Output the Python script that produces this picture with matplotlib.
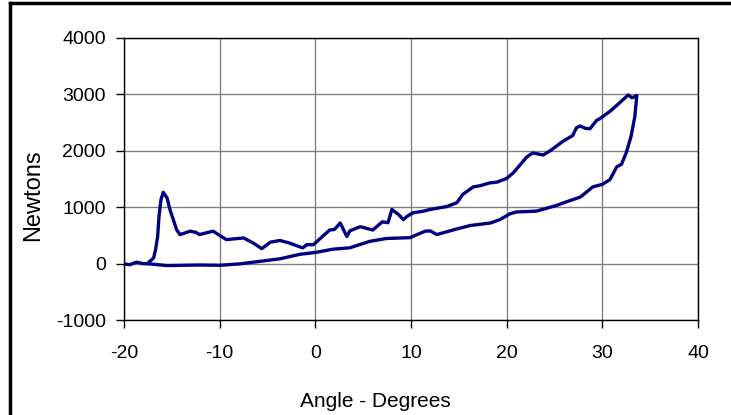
import matplotlib
matplotlib.use('Agg')
from matplotlib import pyplot as plt
from matplotlib.lines import Line2D

# Loading path (lower branch), left to right
load_angle = [-20.0, -19.4, -18.7, -18.0, -17.3, -15.5, -12.1, -10.0, -7.9, -5.8,
              -3.7, -1.6, 0.1, 1.8, 3.6, 5.7, 7.4, 9.9, 11.0, 11.5,
              12.0, 12.7, 14.8, 16.2, 18.3, 19.3, 20.3, 21.0, 23.1, 25.2,
              25.9, 27.7, 29.0, 30.0, 30.8, 31.5, 32.0, 32.5, 33.0, 33.4, 33.6]
load_force = [-5, -20, 25, 0, -5, -35, -25, -30, -5, 40,
              85, 165, 200, 255, 280, 395, 445, 460, 540, 575,
              580, 515, 615, 675, 720, 780, 880, 915, 930, 1030,
              1075, 1180, 1360, 1405, 1490, 1715, 1760, 1965, 2255, 2610, 2980]

# Unloading path (upper branch), right to left
unload_angle = [33.5, 33.1, 32.7, 31.8, 30.8, 29.7, 29.4, 28.7, 28.2, 27.7,
                27.3, 26.9, 25.9, 24.5, 23.8, 23.1, 22.7, 22.1, 20.7, 20.0,
                19.0, 18.2, 17.2, 16.5, 15.4, 14.8, 13.7, 12.0, 11.3, 10.2,
                9.6, 9.2, 8.7, 8.0, 7.6, 7.0, 6.0, 4.7, 3.6, 3.3,
                2.6, 2.0, 1.5, 0.8, -0.2, -0.9, -1.3, -1.6, -2.7, -3.7,
                -4.7, -5.6, -6.5, -7.5, -9.3, -10.7, -12.1, -12.5, -13.1, -13.6,
                -14.15, -14.5, -14.85, -15.2, -15.5, -15.9, -16.13, -16.34, -16.48, -16.7,
                -16.9, -17.3, -17.5]
unload_force = [2970, 2940, 2990, 2850, 2700, 2565, 2540, 2390, 2400, 2440,
                2410, 2270, 2170, 1995, 1925, 1950, 1960, 1890, 1610, 1510,
                1445, 1430, 1380, 1360, 1225, 1080, 1010, 960, 930, 900,
                840, 780, 870, 960, 725, 740, 595, 655, 580, 480,
                720, 605, 595, 490, 335, 335, 280, 295, 365, 410,
                380, 265, 365, 455, 425, 575, 515, 555, 575, 545,
                515, 600, 780, 960, 1165, 1265, 1135, 840, 485, 250,
                100, 40, 10]

x_ticks = [-20, -10, 0, 10, 20, 30, 40]
y_ticks = [-1000, 0, 1000, 2000, 3000, 4000]

plt.rcParams['font.family'] = ['Liberation Sans', 'DejaVu Sans']
plt.rcParams['axes.unicode_minus'] = False

fig = plt.figure(figsize=(7.31, 4.15), dpi=100)
ax = fig.add_axes([124 / 731, 1 - 320 / 415, 574 / 731, 282 / 415])

angle = load_angle + unload_angle
force = load_force + unload_force
ax.plot(angle, force, color='#000080', linewidth=2.4,
        solid_joinstyle='round', solid_capstyle='round')

ax.set_xlim(-20, 40)
ax.set_ylim(-1000, 4000)
ax.set_xticks(x_ticks)
ax.set_yticks(y_ticks)
ax.grid(True, color='#808080', linewidth=1.0)
ax.set_axisbelow(True)
for s in ax.spines.values():
    s.set_color('black')
    s.set_linewidth(1.0)
ax.tick_params(axis='both', direction='out', length=6, width=1,
               labelsize=14, colors='black')
ax.tick_params(axis='x', pad=12)
ax.tick_params(axis='y', pad=7)

fig.text(375 / 731, 1 - 401 / 415, 'Angle - Degrees', ha='center', va='center', fontsize=15)
fig.text(33 / 731, 1 - 195 / 415, 'Newtons', ha='center', va='center',
         rotation=90, fontsize=17)

# outer chart frame
fig.add_artist(Line2D([9.5 / 731, 9.5 / 731], [-0.1, 1 - 3.5 / 415], color='black', linewidth=2.5))
fig.add_artist(Line2D([9.5 / 731, 1.1], [1 - 3.5 / 415, 1 - 3.5 / 415], color='black', linewidth=2.5))

fig.savefig('out.png', dpi=100)
